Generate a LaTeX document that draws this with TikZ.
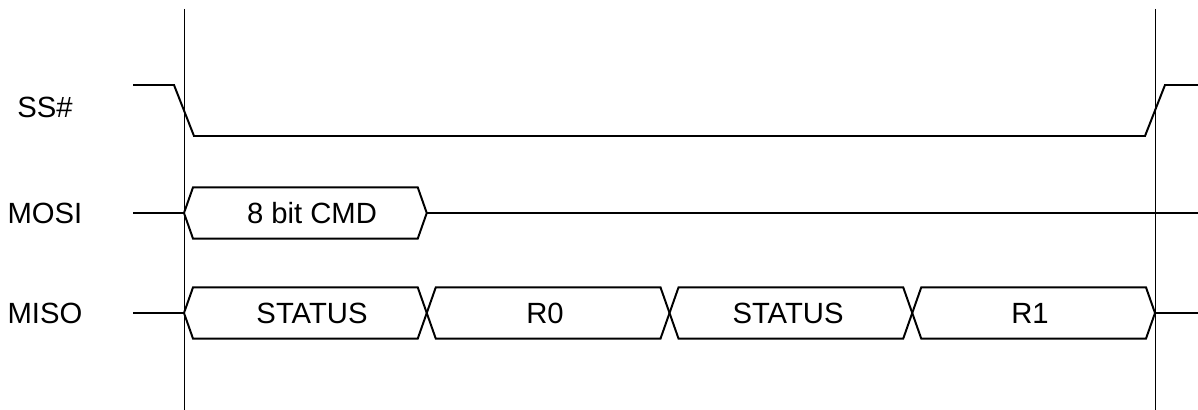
\documentclass[tikz,border=0pt]{standalone}
\usepackage{fontspec}
\setmainfont{Liberation Sans}
\begin{document}
\begin{tikzpicture}[sig/.style={line width=1.4pt}, mark line/.style={line width=0.6pt}, lbl/.style={font=\fontsize{20.8}{25}\selectfont}]
		\useasboundingbox (0, 0) rectangle (29.95, 10.25);

		% Define the signal names
		\node[lbl] (ss) at (1.125, 7.575) {SS\#};
		\node[lbl] (mosi) at (1.125, 4.925) {MOSI};
		\node[lbl] (miso) at (1.125, 2.425) {MISO};

		% Define the frame markers
		\draw[mark line] (4.6, 10.025) -- (4.6, 0);
		\draw[mark line] (28.875, 10.025) -- (28.875, 0);

		% SS# low for the whole frame
		\draw[sig] (3.325, 8.125) -- (4.35, 8.125) -- (4.85, 6.85) -- (28.625, 6.85) -- (29.125, 8.125) -- (29.95, 8.125);

		% MOSI sends the command
		\draw[sig] (3.325, 4.925) -- (4.6, 4.925);
		\draw[sig] (4.6, 4.925) -- (4.825, 5.565) -- (10.444, 5.565) -- (10.669, 4.925) -- (10.444, 4.285) -- (4.825, 4.285) -- cycle;
		\draw[sig] (10.669, 4.925) -- (29.95, 4.925);
		\node[lbl] (cmd) at (7.8, 4.925) {8 bit CMD};

		% MISO returns status and registers
		\draw[sig] (3.325, 2.425) -- (4.6, 2.425);
		\draw[sig] (4.6, 2.425) -- (4.825, 3.065) -- (10.444, 3.065) -- (10.669, 2.425) -- (10.444, 1.785) -- (4.825, 1.785) -- cycle;
		\draw[sig] (10.669, 2.425) -- (10.894, 3.065) -- (16.513, 3.065) -- (16.738, 2.425) -- (16.513, 1.785) -- (10.894, 1.785) -- cycle;
		\draw[sig] (16.738, 2.425) -- (16.963, 3.065) -- (22.581, 3.065) -- (22.806, 2.425) -- (22.581, 1.785) -- (16.963, 1.785) -- cycle;
		\draw[sig] (22.806, 2.425) -- (23.031, 3.065) -- (28.65, 3.065) -- (28.875, 2.425) -- (28.65, 1.785) -- (23.031, 1.785) -- cycle;
		\draw[sig] (28.875, 2.425) -- (29.95, 2.425);
		\node[lbl] (st1) at (7.8, 2.425) {STATUS};
		\node[lbl] (r0) at (13.625, 2.425) {R0};
		\node[lbl] (st2) at (19.7, 2.425) {STATUS};
		\node[lbl] (r1) at (25.75, 2.425) {R1};
	\end{tikzpicture}
\end{document}
